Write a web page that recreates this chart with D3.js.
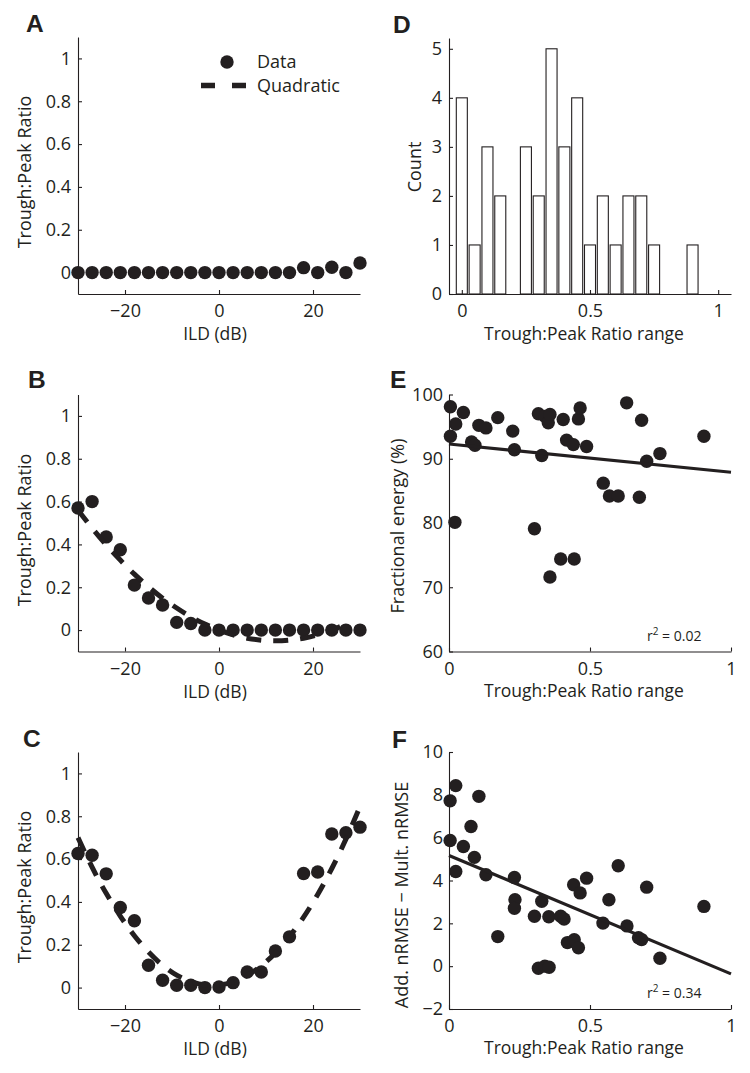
<!DOCTYPE html>
<html><head><meta charset="utf-8">
<script src="https://cdn.jsdelivr.net/npm/d3@7"></script>
<style>
body{margin:0;background:#fff;}
svg text{font-family:"Open Sans",sans-serif;fill:#231f20;}
</style></head><body>
<svg id="c" width="750" height="1073" style="background:#fff"></svg>
<script>
// ---------- DATA ----------
const ild = [-30,-27,-24,-21,-18,-15,-12,-9,-6,-3,0,3,6,9,12,15,18,21,24,27,30];
const ratioA = [0,0,0,0,0,0,0,0,0,0,0,0,0,0,0,0,0.023,0,0.025,0,0.045];
const ratioB = [0.57,0.60,0.435,0.375,0.21,0.15,0.117,0.036,0.031,0,0,0,0,0,0,0,0,0,0,0,0];
const quadB  = [0.56,0.476,0.398,0.327,0.261,0.202,0.149,0.103,0.062,0.028,0,-0.022,-0.038,-0.047,-0.05,-0.047,-0.038,-0.022,0,0.028];
const ratioC = [0.626,0.618,0.531,0.374,0.312,0.104,0.034,0.011,0.011,0,0.003,0.023,0.073,0.073,0.171,0.237,0.533,0.540,0.717,0.723,0.749];
const quadC  = [0.70,0.562,0.44,0.334,0.242,0.166,0.104,0.058,0.028,0.012,0.012,0.027,0.057,0.102,0.162,0.238,0.329,0.435,0.556,0.693,0.845];
const ildTicks = [-20,0,20];
const ratioTicks = [0,0.2,0.4,0.6,0.8,1];

const binCenters = [0,0.05,0.1,0.15,0.2,0.25,0.3,0.35,0.4,0.45,0.5,0.55,0.6,0.65,0.7,0.75,0.8,0.85,0.9,0.95,1.0];
const binCounts  = [4,1,3,2,0,3,2,5,3,4,1,2,1,2,2,1,0,0,1,0,0];
const countTicks = [0,1,2,3,4,5];
const rangeTicks = [0,0.5,1];

const rangeE  = [0.005,0.005,0.024,0.051,0.021,0.080,0.092,0.106,0.131,0.173,0.226,0.232,0.303,0.317,0.329,0.340,0.352,0.358,0.358,0.396,0.405,0.417,0.441,0.444,0.459,0.465,0.488,0.547,0.569,0.600,0.630,0.683,0.675,0.701,0.748,0.904];
const energyE = [98.1,93.5,95.4,97.2,80.1,92.6,92.1,95.2,94.8,96.4,94.3,91.4,79.1,97.0,90.5,96.6,95.6,96.9,71.6,74.4,96.1,92.9,92.2,74.4,96.2,97.9,91.9,86.2,84.2,84.2,98.7,96.0,84.0,89.6,90.8,93.5];
const fitX = [0,1];
const fitE = [92.3,87.9];
const energyTicks = [60,70,80,90,100];

const rangeF = [0.004,0.024,0.106,0.078,0.004,0.051,0.090,0.024,0.131,0.232,0.234,0.232,0.173,0.303,0.329,0.317,0.340,0.355,0.354,0.396,0.408,0.420,0.444,0.459,0.442,0.465,0.488,0.546,0.567,0.600,0.631,0.672,0.683,0.701,0.748,0.904];
const diffF  = [7.72,8.43,7.93,6.52,5.87,5.59,5.08,4.42,4.27,4.14,3.1,2.7,1.38,2.33,3.03,-0.10,0.0,-0.05,2.31,2.33,2.2,1.1,1.23,0.86,3.8,3.42,4.11,2.01,3.1,4.69,1.88,1.33,1.24,3.69,0.37,2.79];
const fitF = [5.17,-0.36];
const diffTicks = [-2,0,2,4,6,8,10];

// ---------- DRAWING ----------
const INK = "#231f20";
const svg = d3.select("#c");
const fmt = d3.format("~g");

function drawAxes(g, x, y, xt, yt, yPad){
  const ax = g.append("g").attr("transform",`translate(0,${y.range()[0]})`)
    .call(d3.axisBottom(x).tickValues(xt).tickFormat(fmt).tickSizeInner(-4).tickSizeOuter(0).tickPadding(10.5));
  const ay = g.append("g").attr("transform",`translate(${x.range()[0]},0)`)
    .call(d3.axisLeft(y).tickValues(yt).tickFormat(fmt).tickSizeInner(-4).tickSizeOuter(0).tickPadding(yPad||7));
  [ax,ay].forEach(a=>{
    a.attr("font-family",null).attr("font-size",null);
    a.selectAll("path,line").attr("stroke",INK).attr("stroke-width",1.1);
    a.selectAll("text").style("font-size","18px");
  });
}
function letter(t,x,y){
  svg.append("text").attr("x",x).attr("y",y).text(t)
    .style("font-family","'Liberation Sans',Arial,sans-serif").style("font-weight","bold").style("font-size","24.5px");
}
function xlabel(t,x,y){ svg.append("text").attr("x",x).attr("y",y).attr("text-anchor","middle").style("font-size","17.5px").text(t); }
function ylabel(t,x,y){ svg.append("text").attr("transform",`translate(${x},${y}) rotate(-90)`).attr("text-anchor","middle").style("font-size","18px").text(t); }
function dots(g,x,y,xs,ys){
  g.selectAll(null).data(xs).enter().append("circle")
    .attr("cx",(d)=>x(d)).attr("cy",(d,i)=>y(ys[i])).attr("r",6.7).attr("fill",INK);
}

// Left column (A,B,C)
const leftPanels = [
  {L:"A", ys:ratioA, q:null, top:37, bot:294, lab:[26,32], yc:172},
  {L:"B", ys:ratioB, q:quadB, top:394.5, bot:651.5, lab:[28,388], yc:530},
  {L:"C", ys:ratioC, q:quadC, top:752, bot:1009, lab:[23,747], yc:887}
];
leftPanels.forEach(p=>{
  const x = d3.scaleLinear().domain([-30,30]).range([78,360]);
  const y = d3.scaleLinear().domain([-0.1,1.1]).range([p.bot,p.top]);
  const g = svg.append("g");
  drawAxes(g,x,y,ildTicks,ratioTicks,7);
  dots(g,x,y,ild,p.ys);
  if(p.q){
    g.append("path").datum(ild.slice(0,p.q.length)).attr("fill","none").attr("stroke",INK).attr("stroke-width",5)
      .attr("stroke-dasharray","15,12")
      .attr("d", d3.line().curve(d3.curveNatural).x(d=>x(d)).y((d,i)=>y(p.q[i])));
  }
  letter(p.L,p.lab[0],p.lab[1]);
  xlabel("ILD (dB)",215,p.bot+46);
  ylabel("Trough:Peak Ratio",31,p.yc);
});
// legend in A
svg.append("circle").attr("cx",227).attr("cy",62).attr("r",6.7).attr("fill",INK);
svg.append("line").attr("x1",201).attr("x2",247).attr("y1",85.5).attr("y2",85.5)
  .attr("stroke",INK).attr("stroke-width",5.5).attr("stroke-dasharray","14,17");
svg.append("text").attr("x",257).attr("y",68).style("font-size","18px").text("Data");
svg.append("text").attr("x",257).attr("y",92).style("font-size","18px").text("Quadratic");

// D histogram
{
  const x = d3.scaleLinear().domain([-0.05,1.05]).range([449,731]);
  const y = d3.scaleLinear().domain([0,5.22]).range([294,38]);
  const g = svg.append("g");
  const bw = x(0.043)-x(0);
  g.selectAll(null).data(binCenters).enter().append("rect")
    .attr("x",d=>x(d)-bw/2).attr("width",bw)
    .attr("y",(d,i)=>y(binCounts[i])).attr("height",(d,i)=>y(0)-y(binCounts[i]))
    .attr("fill","#fff").attr("stroke",INK).attr("stroke-width",1.1);
  drawAxes(g,x,y,rangeTicks,countTicks,7);
  letter("D",393,33);
  xlabel("Trough:Peak Ratio range",584,340);
  ylabel("Count",421,167);
}
// E scatter
{
  const x = d3.scaleLinear().domain([0,1]).range([449,731]);
  const y = d3.scaleLinear().domain([60,100]).range([651.5,394.5]);
  const g = svg.append("g");
  drawAxes(g,x,y,rangeTicks,energyTicks,6);
  dots(g,x,y,rangeE,energyE);
  g.append("path").datum(fitX).attr("fill","none").attr("stroke",INK).attr("stroke-width",3.2)
    .attr("d", d3.line().x(d=>x(d)).y((d,i)=>y(fitE[i])));
  const t = svg.append("text").attr("x",647).attr("y",641).style("font-size","14px");
  t.append("tspan").text("r");
  t.append("tspan").attr("dy",-6).style("font-size","10px").text("2");
  t.append("tspan").attr("dy",6).text(" = 0.02");
  letter("E",390,388);
  xlabel("Trough:Peak Ratio range",584,697);
  ylabel("Fractional energy (%)",404,526);
}
// F scatter
{
  const x = d3.scaleLinear().domain([0,1]).range([449,731]);
  const y = d3.scaleLinear().domain([-2,10]).range([1009,752]);
  const g = svg.append("g");
  drawAxes(g,x,y,rangeTicks,diffTicks,6);
  dots(g,x,y,rangeF,diffF);
  g.append("path").datum(fitX).attr("fill","none").attr("stroke",INK).attr("stroke-width",3.2)
    .attr("d", d3.line().x(d=>x(d)).y((d,i)=>y(fitF[i])));
  const t = svg.append("text").attr("x",647).attr("y",998).style("font-size","14px");
  t.append("tspan").text("r");
  t.append("tspan").attr("dy",-6).style("font-size","10px").text("2");
  t.append("tspan").attr("dy",6).text(" = 0.34");
  letter("F",392,748);
  xlabel("Trough:Peak Ratio range",584,1054);
  ylabel("Add. nRMSE \u2212 Mult. nRMSE",408,895);
}
</script></body></html>
